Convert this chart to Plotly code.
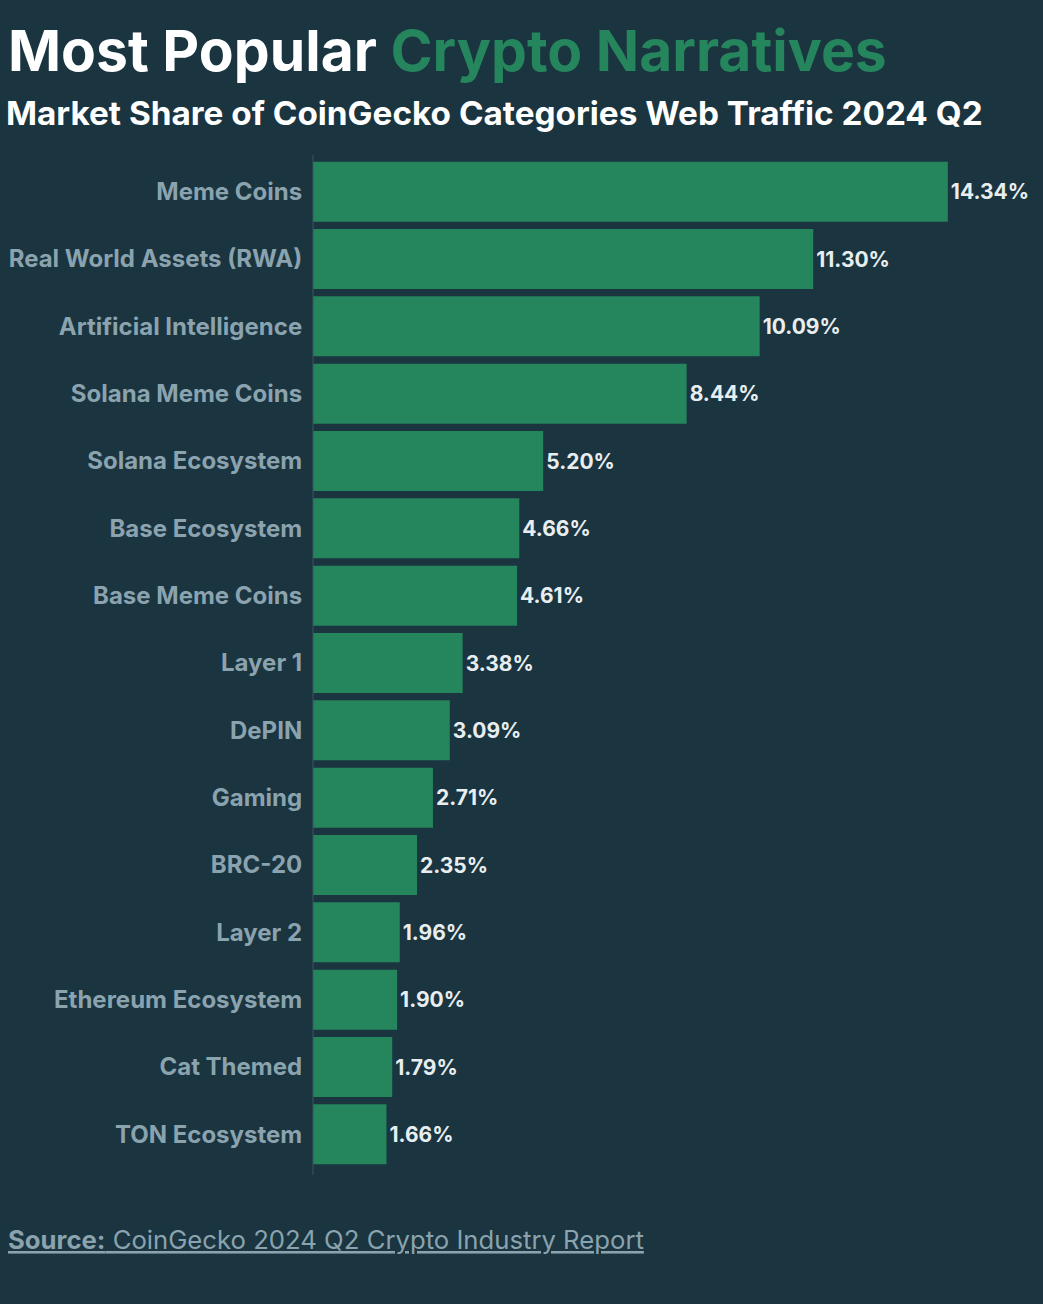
import plotly.graph_objects as go

categories = ['Meme Coins', 'Real World Assets (RWA)', 'Artificial Intelligence', 'Solana Meme Coins',
              'Solana Ecosystem', 'Base Ecosystem', 'Base Meme Coins', 'Layer 1', 'DePIN', 'Gaming',
              'BRC-20', 'Layer 2', 'Ethereum Ecosystem', 'Cat Themed', 'TON Ecosystem']
shares = [14.34, 11.30, 10.09, 8.44, 5.20, 4.66, 4.61, 3.38, 3.09, 2.71, 2.35, 1.96, 1.90, 1.79, 1.66]

bgColor = '#1a3440'
barColor = '#25855c'
labelColor = '#8aa3ae'
valueColor = '#e8eef0'
fontName = 'Inter'

fig = go.Figure(go.Bar(
    x=shares, y=categories, orientation='h',
    marker=dict(color=barColor, line=dict(width=0)),
    texttemplate='%{x:.2f}%', textposition='outside', cliponaxis=False,
    textfont=dict(family=fontName, size=21, color=valueColor, weight=700),
    width=0.89,
))

fig.update_layout(
    width=1043, height=1304,
    paper_bgcolor=bgColor, plot_bgcolor=bgColor,
    margin=dict(l=313, r=0, t=158, b=136, pad=0),
    showlegend=False,
    xaxis=dict(range=[0, 16.49], visible=False, fixedrange=True),
    yaxis=dict(autorange=False, range=[14.5, -0.5], showgrid=False, zeroline=False,
               showline=False, ticks='outside', ticklen=5, tickcolor='rgba(0,0,0,0)',
               tickfont=dict(family=fontName, size=24, color=labelColor, weight=700)),
    shapes=[dict(type='line', xref='paper', yref='paper', x0=0, x1=0, y0=-0.007, y1=1.003,
                 line=dict(color='#3b5560', width=1))],
    annotations=[
        dict(text="<b>Most Popular <span style='color:#25855c'>Crypto Narratives</span></b>",
             xref='paper', yref='paper', x=-313 / 730, y=1, xanchor='left', yanchor='top',
             xshift=6, showarrow=False, font=dict(family=fontName, size=57, color='#ffffff')),
        dict(text='<b>Market Share of CoinGecko Categories Web Traffic 2024 Q2</b>',
             xref='paper', yref='paper', x=-313 / 730, y=1, xanchor='left', yanchor='top',
             xshift=4, showarrow=False, font=dict(family=fontName, size=33.3, color='#ffffff')),
        dict(text='<u><b>Source:</b> CoinGecko 2024 Q2 Crypto Industry Report</u>',
             xref='paper', yref='paper', x=-313 / 730, y=0, xanchor='left', yanchor='top',
             xshift=6, showarrow=False, font=dict(family=fontName, size=25.7, color=labelColor)),
    ],
)

# place header/footer texts in pixel terms relative to the plot area
plotH = 1304 - 158 - 136
fig.layout.annotations[0].y = 1 + (158 - 14) / plotH
fig.layout.annotations[1].y = 1 + (158 - 91) / plotH
fig.layout.annotations[2].y = -(1222 - 1168) / plotH

fig.write_html('out.html', config={'displayModeBar': False},
               post_script="document.body.style.margin='0px';")
